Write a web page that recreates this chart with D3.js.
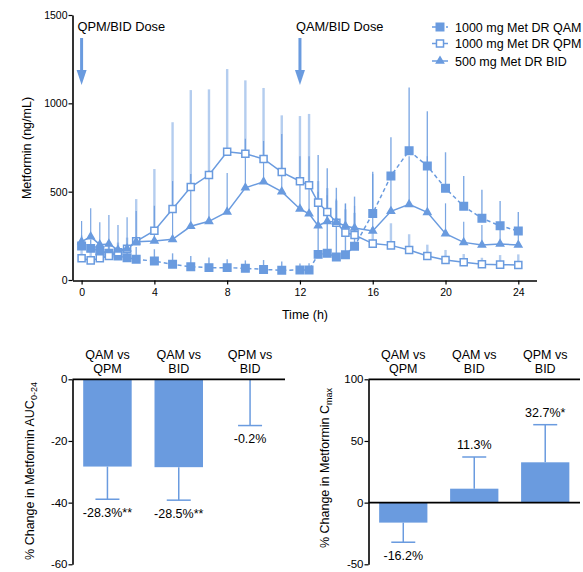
<!DOCTYPE html>
<html>
<head>
<meta charset="utf-8">
<script src="https://cdn.jsdelivr.net/npm/d3@7"></script>
<style>
  body { margin: 0; background: #fff; }
  text { font-family: "Liberation Sans", Arial, sans-serif; }
</style>
</head>
<body>
<script>
// ---- data: plasma profile ----
const times = [0, 0.5, 1, 1.5, 2, 2.5, 3, 4, 5, 6, 7, 8, 9, 10, 11, 12, 12.5, 13, 13.5, 14, 14.5, 15, 16, 17, 18, 19, 20, 21, 22, 23, 24];
const qamMean = [192, 179, 166, 151, 136, 126, 117, 107, 89, 75, 70, 70, 66, 60, 55, 57, 57, 145, 151, 130, 143, 191, 377, 589, 732, 645, 519, 417, 349, 307, 277];
const qamSD   = [60, 50, 50, 50, 45, 45, 70, 67, 62, 61, 58, 47, 45, 53, 50, 37, 38, 562, 481, 392, 291, 281, 236, 219, 357, 310, 204, 171, 162, 140, 108];
const qpmMean = [123, 111, 123, 136, 157, 177, 219, 279, 402, 526, 594, 726, 715, 685, 611, 559, 536, 438, 385, 324, 268, 255, 206, 196, 170, 136, 113, 100, 89, 87, 85];
const qpmSD   = [65, 60, 60, 55, 55, 63, 239, 349, 491, 549, 485, 468, 415, 402, 321, 369, 404, 122, 135, 126, 132, 125, 94, 125, 89, 64, 57, 47, 37, 54, 60];
const bidMean = [217, 245, 200, 204, 170, 177, 217, 221, 230, 304, 332, 385, 522, 556, 500, 402, 375, 307, 332, 327, 306, 294, 277, 389, 428, 383, 262, 213, 198, 204, 198];
const bidSD   = [117, 161, 127, 164, 141, 178, 173, 199, 330, 296, 288, 220, 278, 231, 326, 298, 325, 193, 148, 133, 124, 126, 323, 211, 272, 317, 172, 117, 113, 96, 102];
const seriesNames = ["1000 mg Met DR QAM", "1000 mg Met DR QPM", "500 mg Met DR BID"];
const doseTimes = [0, 12];
const doseLabels = ["QPM/BID Dose", "QAM/BID Dose"];
const timeTicks = [0, 4, 8, 12, 16, 20, 24];
const concTicks = [0, 500, 1000, 1500];

// ---- data: bar panels ----
const comparisons = [["QAM vs", "QPM"], ["QAM vs", "BID"], ["QPM vs", "BID"]];
const aucChange = [-28.3, -28.5, -0.2];
const aucErr = [10.6, 10.7, 14.8];
const aucLabels = ["-28.3%**", "-28.5%**", "-0.2%"];
const aucTicks = [0, -20, -40, -60];
const cmaxChange = [-16.2, 11.3, 32.7];
const cmaxErr = [15.9, 25.7, 30.5];
const cmaxLabels = ["-16.2%", "11.3%", "32.7%*"];
const cmaxTicks = [100, 50, 0, -50];

const blue = "#6a9bdf";
const W = 583, H = 572;

const svg = d3.select("body").append("svg")
    .attr("width", W)
    .attr("height", H);

// ================= top chart =================
const x = d3.scaleLinear().domain([-0.5, 25]).range([72.5, 536.5]);
const y = d3.scaleLinear().domain([0, 1500]).range([280, 15]);

const series = [
  { name: seriesNames[0], mean: qamMean, sd: qamSD, symbol: d3.symbolSquare, size: 56, fill: blue, dash: "4,3",
    errColor: blue, errWidth: 1.4, errOpacity: 0.85 },
  { name: seriesNames[1], mean: qpmMean, sd: qpmSD, symbol: d3.symbolSquare, size: 50, fill: "#fff", dash: null,
    errColor: blue, errWidth: 2.4, errOpacity: 0.5 },
  { name: seriesNames[2], mean: bidMean, sd: bidSD, symbol: d3.symbolTriangle, size: 22, fill: blue, dash: null,
    errColor: blue, errWidth: 1.2, errOpacity: 0.9 }
];

const gTop = svg.append("g");

// error bars (upper only)
series.forEach(s => {
  gTop.append("g")
    .selectAll("line")
    .data(times)
    .join("line")
    .attr("x1", (t) => x(t))
    .attr("x2", (t) => x(t))
    .attr("y1", (t, i) => y(s.mean[i]))
    .attr("y2", (t, i) => y(s.mean[i] + s.sd[i]))
    .attr("stroke", s.errColor)
    .attr("stroke-opacity", s.errOpacity)
    .attr("stroke-width", s.errWidth);
});

// lines
const line = d3.line().x((d) => x(d[0])).y((d) => y(d[1]));
series.forEach(s => {
  gTop.append("path")
    .datum(times.map((t, i) => [t, s.mean[i]]))
    .attr("d", line)
    .attr("fill", "none")
    .attr("stroke", blue)
    .attr("stroke-width", 1.5)
    .attr("stroke-dasharray", s.dash);
});

// markers
series.forEach(s => {
  gTop.append("g")
    .selectAll("path")
    .data(times)
    .join("path")
    .attr("transform", (t, i) => `translate(${x(t)},${y(s.mean[i])})`)
    .attr("d", d3.symbol(s.symbol, s.size))
    .attr("fill", s.fill)
    .attr("stroke", blue)
    .attr("stroke-width", 1.5);
});

// axes
const yAxis = gTop.append("g")
    .attr("transform", "translate(72.5,0)")
    .call(d3.axisLeft(y).tickValues(concTicks).tickFormat(d => String(d)).tickSize(4).tickSizeOuter(0));
const xAxis = gTop.append("g")
    .attr("transform", "translate(0,280.5)")
    .call(d3.axisBottom(x).tickValues(timeTicks).tickSize(4).tickSizeOuter(0));
[yAxis, xAxis].forEach(a => {
  a.select(".domain").attr("stroke", "#000").attr("stroke-width", 1.6);
  a.selectAll(".tick line").attr("stroke", "#000").attr("stroke-width", 1.2);
  a.selectAll(".tick text").attr("font-size", 10.5).attr("fill", "#000")
    .attr("font-family", "Liberation Sans, Arial, sans-serif");
});
yAxis.selectAll(".tick text").attr("x", -5);
xAxis.selectAll(".tick text").attr("y", 8);

gTop.append("text")
    .attr("x", 305).attr("y", 319)
    .attr("text-anchor", "middle")
    .attr("font-size", 12.5)
    .text("Time (h)");

gTop.append("text")
    .attr("transform", "translate(31,148) rotate(-90)")
    .attr("text-anchor", "middle")
    .attr("font-size", 12.5)
    .text("Metformin (ng/mL)");

// dose arrows
doseTimes.forEach((t, i) => {
  const ax = x(t);
  gTop.append("line")
    .attr("x1", ax).attr("x2", ax)
    .attr("y1", 38).attr("y2", 72)
    .attr("stroke", blue).attr("stroke-width", 3);
  gTop.append("path")
    .attr("d", `M${ax - 5},70L${ax + 5},70L${ax},85Z`)
    .attr("fill", blue);
  gTop.append("text")
    .attr("x", ax - 4).attr("y", 31)
    .attr("font-size", 12.8)
    .text(doseLabels[i]);
});

// legend
const legendY = [27, 43.5, 61];
series.forEach((s, i) => {
  const g = gTop.append("g").attr("transform", `translate(0,${legendY[i]})`);
  g.append("line")
    .attr("x1", 432).attr("x2", 448)
    .attr("stroke", blue).attr("stroke-width", 1.5)
    .attr("stroke-dasharray", s.dash);
  g.append("path")
    .attr("transform", "translate(440,0)")
    .attr("d", d3.symbol(s.symbol, s.size))
    .attr("fill", s.fill)
    .attr("stroke", blue)
    .attr("stroke-width", 1.5);
  g.append("text")
    .attr("x", 455).attr("y", 4.5)
    .attr("font-size", 12.5)
    .text(s.name);
});

// ================= bar panels =================
function barPanel(opts) {
  const g = svg.append("g");
  const xb = d3.scaleBand()
      .domain(d3.range(comparisons.length))
      .range(opts.xRange)
      .paddingInner(0.32)
      .paddingOuter(0.15);
  const yb = d3.scaleLinear().domain(opts.domain).range([564.3, 379.3]);

  // bars
  g.append("g")
    .selectAll("rect")
    .data(opts.values)
    .join("rect")
    .attr("x", (d, i) => xb(i))
    .attr("width", xb.bandwidth())
    .attr("y", (d) => yb(Math.max(0, d)))
    .attr("height", (d) => Math.abs(yb(d) - yb(0)))
    .attr("fill", blue);

  // error bars away from zero
  const ends = opts.values.map((v, i) => v + Math.sign(v) * opts.errors[i]);
  const eg = g.append("g").attr("stroke", blue).attr("stroke-width", 1.5);
  opts.values.forEach((v, i) => {
    const cx = xb(i) + xb.bandwidth() / 2;
    eg.append("line")
      .attr("x1", cx).attr("x2", cx)
      .attr("y1", yb(v)).attr("y2", yb(ends[i]));
    eg.append("line")
      .attr("x1", cx - 12).attr("x2", cx + 12)
      .attr("y1", yb(ends[i])).attr("y2", yb(ends[i]));
  });

  // value labels
  g.append("g")
    .selectAll("text")
    .data(opts.labels)
    .join("text")
    .attr("x", (d, i) => xb(i) + xb.bandwidth() / 2)
    .attr("y", (d, i) => ends[i] < 0 ? yb(ends[i]) + 17.5 : yb(ends[i]) - 8)
    .attr("text-anchor", "middle")
    .attr("font-size", 12.5)
    .text((d) => d);

  // zero line and top line
  const hLines = opts.domain[1] === 0 ? [0] : [0, opts.domain[1]];
  hLines.forEach(v => {
    g.append("line")
      .attr("x1", opts.xRange[0]).attr("x2", opts.xRange[1])
      .attr("y1", yb(v)).attr("y2", yb(v))
      .attr("stroke", "#000").attr("stroke-width", 1.8);
  });

  // y axis
  const ya = g.append("g")
    .attr("transform", `translate(${opts.xRange[0]},0)`)
    .call(d3.axisLeft(yb).tickValues(opts.ticks).tickFormat(d => String(d)).tickSize(4).tickSizeOuter(0));
  ya.select(".domain").attr("stroke", "#000").attr("stroke-width", 1.6);
  ya.selectAll(".tick line").attr("stroke", "#000").attr("stroke-width", 1.2);
  ya.selectAll(".tick text").attr("font-size", 11.5).attr("fill", "#000").attr("x", -5)
    .attr("font-family", "Liberation Sans, Arial, sans-serif");

  // category labels
  comparisons.forEach((c, i) => {
    const t = g.append("text")
      .attr("x", xb(i) + xb.bandwidth() / 2)
      .attr("text-anchor", "middle")
      .attr("font-size", 12.5);
    t.append("tspan").attr("x", xb(i) + xb.bandwidth() / 2).attr("y", 359).text(c[0]);
    t.append("tspan").attr("x", xb(i) + xb.bandwidth() / 2).attr("y", 373).text(c[1]);
  });

  // y label with subscript
  const yl = g.append("text")
    .attr("transform", `translate(${opts.labelX},${opts.labelY}) rotate(-90)`)
    .attr("text-anchor", "middle")
    .attr("font-size", 12.5);
  yl.append("tspan").text(opts.yLabel);
  yl.append("tspan").attr("font-size", 9).attr("dy", 3).text(opts.yLabelSub);
}

barPanel({
  xRange: [72.5, 285],
  domain: [-60, 0],
  ticks: aucTicks,
  values: aucChange,
  errors: aucErr,
  labels: aucLabels,
  yLabel: "% Change in Metformin AUC",
  yLabelSub: "0-24",
  labelX: 34,
  labelY: 471
});

barPanel({
  xRange: [368.5, 580],
  domain: [-50, 100],
  ticks: cmaxTicks,
  values: cmaxChange,
  errors: cmaxErr,
  labels: cmaxLabels,
  yLabel: "% Change in Metformin C",
  yLabelSub: "max",
  labelX: 329,
  labelY: 468
});
</script>
</body>
</html>
